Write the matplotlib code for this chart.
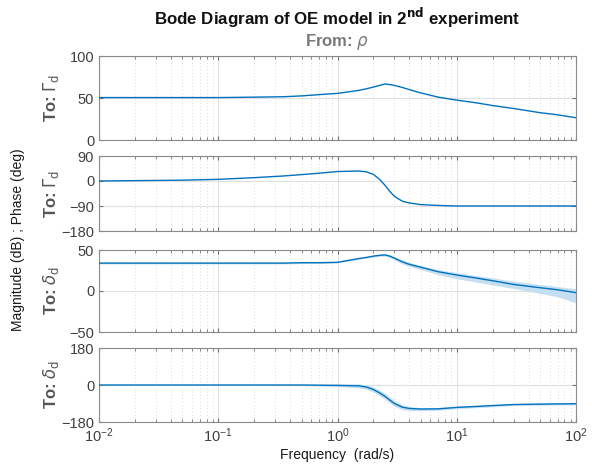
import numpy as np
import matplotlib
matplotlib.use('Agg')
import matplotlib.pyplot as plt
from matplotlib.ticker import LogLocator, NullFormatter

plt.rcParams['font.family'] = ['Liberation Sans', 'DejaVu Sans']
plt.rcParams['mathtext.fontset'] = 'dejavusans'

# frequency grid (rad/s)
freq = [0.01, 0.05, 0.1, 0.2, 0.35, 0.5, 0.7, 1.0, 1.5, 1.75, 2.0, 2.25, 2.5,
        2.75, 3.0, 3.5, 4.0, 5.0, 7.0, 10, 15, 20, 30, 50, 70, 100]

# To: Gamma_d  (magnitude, phase)
mag_g = [50.5, 50.5, 50.5, 51, 51.5, 52.5, 54, 55.5, 59, 61, 63, 65, 66.7,
         66, 65, 62.5, 60, 56, 51, 47.5, 44, 41, 37.5, 32.5, 30, 26.5]
ph_g = [0, 3, 6, 12, 18, 23, 28, 34, 36, 33, 24, 6, -15,
        -38, -55, -73, -79, -85, -88, -90, -90, -90, -90, -90, -90, -90]

# To: delta_d  (magnitude with band, phase with band)
mag_d = [34, 34, 34, 34, 34, 34.5, 34.5, 35, 39.5, 41, 42.5, 43.5, 44,
         42.5, 40, 35.5, 32.5, 29, 23.5, 19.5, 15.5, 12.5, 8, 4, 1.5, -2]
mag_d_hi = [35, 35, 35, 35, 35, 35.5, 35.5, 36, 40.5, 42, 43.5, 44.7, 45.5,
            44, 42, 38, 35, 31, 26, 22.5, 18.5, 16, 12, 8, 5.5, 2.5]
mag_d_lo = [33, 33, 33, 33, 33, 33.5, 33.5, 34, 38.5, 40, 41.5, 42.3, 42.5,
            41, 38, 33, 30, 26, 20, 15, 10.5, 7.5, 3, -3, -7, -14.5]
ph_d = [0, 0, 0, 0, 0, 0, -1, -2, -4, -10, -22, -38, -55,
        -74, -90, -108, -114, -117, -116, -109, -104, -100, -95, -93, -92, -91]
ph_d_hi = [2, 2, 2, 2, 3, 3, 4, 5, 6, 1, -10, -25, -40,
           -60, -76, -96, -105, -110, -109, -103, -98, -95, -90, -88, -87, -86]
ph_d_lo = [-2, -2, -2, -2, -3, -3, -5, -8, -14, -21, -34, -52, -70,
           -88, -104, -120, -124, -125, -123, -115, -110, -106, -100, -98, -97, -96]

blue = '#0072BD'
band = '#c5dff2'
grey_txt = '#404040'

fig = plt.figure(figsize=(5.92, 4.73), dpi=100)
left, width = 99/592, 477/592
boxes = [(56, 140), (156, 231), (250, 332), (348, 422)]
axes = []
for top, bot in boxes:
    ax = fig.add_axes([left, 1 - bot/473, width, (bot - top)/473])
    axes.append(ax)

panels = [
    (mag_g, None, None, (0, 100), [0, 50, 100]),
    (ph_g, None, None, (-180, 90), [-180, -90, 0, 90]),
    (mag_d, mag_d_lo, mag_d_hi, (-50, 50), [-50, 0, 50]),
    (ph_d, ph_d_lo, ph_d_hi, (-180, 180), [-180, 0, 180]),
]
ylabels = [r'To: $\Gamma_{\rm d}$', r'To: $\Gamma_{\rm d}$',
           r'To: $\delta_{\rm d}$', r'To: $\delta_{\rm d}$']

for i, (ax, (y, lo, hi, lim, ticks)) in enumerate(zip(axes, panels)):
    if lo is not None:
        ax.fill_between(freq, lo, hi, color=band, lw=0, zorder=2)
    ax.plot(freq, y, color=blue, lw=1.0, zorder=3)
    ax.set_xscale('log')
    ax.set_xlim(0.01, 100)
    ax.set_ylim(*lim)
    ax.set_yticks(ticks)
    ax.xaxis.set_major_locator(LogLocator(base=10, numticks=10))
    ax.xaxis.set_minor_locator(LogLocator(base=10, subs=np.arange(2, 10), numticks=10))
    ax.xaxis.set_minor_formatter(NullFormatter())
    ax.grid(True, which='major', color='#e0e0e0', lw=0.8, zorder=0)
    ax.grid(True, which='minor', axis='x', color='#d0d0d0', lw=0.6, ls=(0, (1, 3)), zorder=0)
    ax.tick_params(which='both', direction='in', top=True, right=True,
                   colors='#707070', labelcolor=grey_txt, labelsize=10.5)
    ax.tick_params(which='major', length=3)
    ax.tick_params(which='minor', length=2)
    for s in ax.spines.values():
        s.set_color('#8a8a8a')
        s.set_linewidth(0.8)
    if i < 3:
        ax.tick_params(labelbottom=False)
    ax.set_ylabel(ylabels[i], fontsize=12, fontweight='bold', color='#555555')
    ax.yaxis.set_label_coords(-0.08, 0.5)

axes[3].set_xlabel('Frequency  (rad/s)', fontsize=10, color='#1a1a1a', labelpad=2)

cx = left + width/2
fig.text(cx, 1 - 18/473, r'Bode Diagram of OE model in 2$^{\bf nd}$ experiment',
         ha='center', va='center', fontsize=12.2, fontweight='bold', color='#111111')
fig.text(cx, 1 - 42/473, r'From: $\rho$', ha='center', va='center',
         fontsize=12, fontweight='bold', color='#7a7a7a')
fig.text(18/592, 1 - 240/473, 'Magnitude (dB) ; Phase (deg)', rotation=90,
         ha='center', va='center', fontsize=10, color='#1a1a1a')

fig.savefig('out.png', dpi=100)
